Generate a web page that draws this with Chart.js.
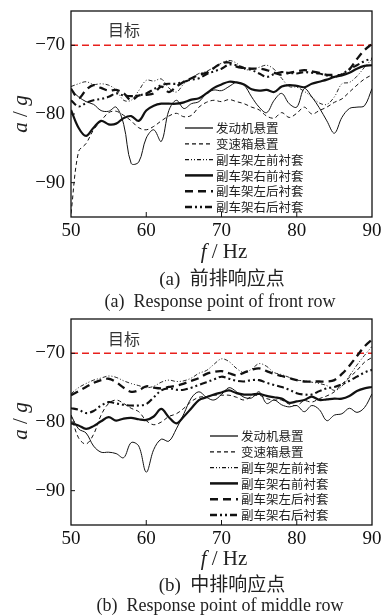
<!DOCTYPE html>
<html>
<head>
<meta charset="utf-8">
<script src="https://cdn.jsdelivr.net/npm/chart.js@4.4.1/dist/chart.umd.min.js"></script>
<style>
  html, body { margin: 0; padding: 0; background: #fff; }
  #wrap { position: relative; width: 383px; height: 616px; overflow: hidden; }
  canvas { position: absolute; left: 0; }
  .t { position: absolute; transform: translate(-50%, -50%); white-space: nowrap; color: #222; }
  .serif { font-family: "Liberation Serif", "DejaVu Serif", serif; }
  .cjk { font-family: "Noto Sans CJK SC", sans-serif; }
  .goal { font-family: "Noto Sans CJK SC", sans-serif; font-size: 16px; color: #333; }
  .ytitle { font-family: "Liberation Serif", serif; font-size: 21px; transform: translate(-50%, -50%) rotate(-90deg); }
  .xtitle { font-family: "Liberation Serif", serif; font-size: 21px; }
  .cap1 { font-size: 19px; }
  .cap2 { font-family: "Liberation Serif", serif; font-size: 18px; }
</style>
</head>
<body>
<div id="wrap">
  <canvas id="front" width="383" height="245" style="top:0"></canvas>
  <canvas id="middle" width="383" height="245" style="top:308px"></canvas>

  <div class="t goal" style="left:124px;top:29px">目标</div>
  <div class="t ytitle" style="left:20px;top:114px"><i>a</i> / <i>g</i></div>
  <div class="t xtitle" style="left:224px;top:251px"><i>f</i> / Hz</div>
  <div class="t cap1" style="left:222px;top:276px"><span class="serif">(a)</span>&nbsp;&nbsp;<span class="cjk">前排响应点</span></div>
  <div class="t cap2" style="left:220px;top:301px">(a)&nbsp;&nbsp;Response point of front row</div>

  <div class="t goal" style="left:124px;top:338px">目标</div>
  <div class="t ytitle" style="left:20px;top:421px"><i>a</i> / <i>g</i></div>
  <div class="t xtitle" style="left:224px;top:558px"><i>f</i> / Hz</div>
  <div class="t cap1" style="left:222px;top:582px"><span class="serif">(b)</span>&nbsp;&nbsp;<span class="cjk">中排响应点</span></div>
  <div class="t cap2" style="left:220px;top:605px">(b)&nbsp;&nbsp;Response point of middle row</div>
</div>

<script>
// frequency axis, Hz
const freq = [50,51,52,53,54,55,56,57,58,59,60,61,62,63,64,65,66,67,68,69,70,
              71,72,73,74,75,76,77,78,79,80,81,82,83,84,85,86,87,88,89,90];
const xTicks = [50, 60, 70, 80, 90];
const yTicks = [-90, -80, -70];
const target = -70;

const seriesNames = ['发动机悬置', '变速箱悬置', '副车架左前衬套', '副车架右前衬套', '副车架左后衬套', '副车架右后衬套'];

// (a) front row response, a / g
const frontEngine = [-76.5,-77.5,-78.2,-78.6,-79.5,-79.6,-79.0,-81.5,-87.2,-87.0,-83.5,-82.3,-84.0,-79.5,-78.0,-79.2,-78.5,-78.2,-77.0,-76.5,
  -76.6,-76.0,-75.4,-75.8,-77.5,-79.0,-79.8,-78.0,-77.0,-78.5,-79.0,-76.3,-77.5,-79.1,-81.0,-82.8,-80.5,-79.2,-79.0,-78.8,-76.3];
const frontGearbox = [-94.5,-85.5,-84.3,-82.3,-81.0,-79.8,-79.6,-80.2,-81.0,-82.0,-82.3,-81.8,-81.0,-80.3,-79.9,-80.4,-80.2,-79.0,-78.3,-78.0,
  -78.2,-77.9,-78.2,-78.5,-79.0,-79.4,-80.3,-80.6,-79.8,-80.5,-79.9,-79.0,-80.0,-79.5,-79.0,-78.3,-77.8,-76.8,-75.8,-74.9,-74.3];
const frontLeftFront = [-76.0,-75.6,-75.3,-75.7,-75.6,-75.8,-76.5,-78.0,-78.0,-76.6,-75.1,-75.2,-74.9,-76.2,-76.8,-75.6,-74.8,-74.1,-73.8,-73.2,
  -72.6,-72.2,-72.6,-73.5,-73.5,-73.2,-72.9,-73.5,-74.8,-76.0,-76.1,-76.7,-77.5,-78.4,-78.6,-77.5,-75.6,-75.4,-74.5,-73.2,-72.0];
const frontRightFront = [-79.4,-82.0,-83.2,-82.0,-81.0,-81.5,-81.4,-80.6,-80.3,-81.0,-79.5,-78.8,-78.5,-78.5,-78.5,-78.3,-77.9,-77.7,-77.0,-76.2,
  -75.7,-75.3,-75.4,-75.7,-76.4,-76.6,-76.5,-76.8,-76.0,-75.8,-75.9,-76.1,-75.6,-75.3,-75.0,-74.6,-74.4,-74.0,-73.4,-73.0,-72.9];
const frontLeftRear = [-76.3,-77.7,-76.5,-75.8,-76.2,-76.6,-76.5,-77.0,-78.0,-77.3,-77.2,-77.0,-76.0,-76.8,-76.0,-75.3,-74.8,-74.3,-74.0,-73.3,
  -72.6,-72.5,-73.1,-73.3,-73.4,-73.4,-73.6,-74.0,-74.3,-74.0,-73.8,-73.6,-73.8,-74.0,-74.3,-74.3,-74.3,-73.5,-72.0,-70.7,-69.8];
const frontRightRear = [-78.0,-78.9,-78.4,-78.0,-77.8,-77.5,-77.0,-77.3,-77.4,-77.3,-77.0,-76.4,-75.8,-75.6,-75.6,-75.3,-75.0,-74.8,-74.2,-73.8,
  -73.4,-72.8,-72.9,-73.3,-73.6,-74.1,-74.6,-74.2,-73.9,-74.0,-74.1,-73.9,-74.0,-74.1,-74.4,-74.6,-74.2,-73.5,-72.9,-72.3,-71.9];

// (b) middle row response, a / g
const middleEngine = [-79.0,-81.0,-81.6,-83.5,-84.4,-84.4,-84.6,-85.2,-83.0,-83.5,-87.3,-84.0,-82.5,-82.8,-81.0,-78.8,-76.5,-75.6,-76.4,-76.8,
  -76.0,-75.0,-75.6,-76.4,-76.5,-75.6,-77.3,-76.8,-77.5,-77.8,-77.6,-78.5,-77.6,-78.2,-79.8,-79.0,-78.8,-78.0,-78.6,-77.9,-75.9];
const middleGearbox = [-79.0,-82.3,-83.2,-81.8,-79.0,-77.3,-76.8,-77.3,-78.0,-78.5,-79.8,-80.4,-80.0,-79.2,-78.8,-78.0,-77.0,-76.4,-76.3,-76.1,
  -76.1,-76.1,-76.4,-76.8,-76.3,-76.1,-76.6,-76.8,-76.8,-77.4,-77.6,-76.9,-77.1,-76.6,-76.2,-75.6,-74.5,-73.5,-72.5,-71.3,-70.6];
const middleLeftFront = [-75.9,-75.0,-74.4,-73.9,-73.6,-73.3,-73.5,-74.0,-74.4,-74.7,-75.0,-74.8,-74.2,-73.9,-74.1,-74.0,-73.6,-72.9,-72.5,-71.6,
  -70.8,-71.2,-72.2,-72.8,-72.3,-71.5,-71.9,-72.8,-73.1,-73.5,-73.9,-74.0,-74.2,-74.4,-74.7,-75.4,-74.8,-73.3,-71.7,-70.3,-69.0];
const middleRightFront = [-80.2,-80.5,-81.0,-80.6,-79.9,-79.3,-79.8,-79.5,-79.4,-79.6,-79.7,-79.2,-78.1,-79.3,-80.2,-79.2,-78.0,-76.8,-76.4,-76.0,
  -75.7,-75.4,-75.8,-76.0,-76.0,-75.9,-76.2,-76.4,-76.6,-77.2,-77.0,-76.8,-76.3,-76.8,-76.7,-76.6,-76.6,-76.2,-75.5,-75.1,-74.9];
const middleLeftRear = [-76.1,-75.5,-74.9,-74.3,-73.9,-73.7,-74.2,-75.0,-75.6,-75.4,-74.8,-75.0,-75.1,-74.9,-74.7,-74.4,-74.0,-73.6,-73.0,-72.7,
  -72.6,-72.9,-73.2,-72.8,-72.4,-72.2,-72.6,-73.0,-73.3,-73.6,-73.9,-74.1,-74.1,-74.1,-74.1,-73.9,-73.0,-71.8,-70.4,-69.0,-68.0];
const middleRightRear = [-78.0,-78.2,-78.7,-78.4,-77.6,-77.1,-77.3,-77.5,-77.6,-77.6,-77.4,-76.4,-75.4,-75.1,-75.3,-75.3,-75.0,-74.6,-74.2,-73.8,
  -73.4,-73.7,-74.0,-74.1,-73.9,-73.9,-74.3,-74.6,-74.9,-75.3,-75.8,-76.0,-76.0,-75.5,-75.1,-74.9,-74.5,-74.0,-73.4,-72.8,-72.4];

const INK = '#111';
const TICK_FONT = { family: 'Liberation Serif', size: 19 };
const lineStyles = [
  { width: 1.0, dash: [] },
  { width: 1.0, dash: [4, 3] },
  { width: 0.9, dash: [4, 2, 1, 2, 1, 2] },
  { width: 2.2, dash: [] },
  { width: 2.3, dash: [8, 5] },
  { width: 2.1, dash: [7, 3, 2, 3, 2, 3] }
];

function toPoints(values) {
  return values.map((v, i) => ({ x: freq[i], y: v }));
}

// frame, inward ticks and the in-plot legend
const decorations = {
  id: 'decorations',
  afterDatasetsDraw(chart, args, opts) {
    const { ctx, chartArea: a, scales: { x, y } } = chart;
    ctx.save();
    ctx.strokeStyle = INK;
    ctx.lineWidth = 1.3;
    ctx.setLineDash([]);
    ctx.strokeRect(a.left, a.top, a.right - a.left, a.bottom - a.top);
    ctx.lineWidth = 1;
    xTicks.slice(1, -1).forEach(v => {
      const px = x.getPixelForValue(v);
      ctx.beginPath(); ctx.moveTo(px, a.bottom); ctx.lineTo(px, a.bottom - 5); ctx.stroke();
    });
    yTicks.forEach(v => {
      const py = y.getPixelForValue(v);
      ctx.beginPath(); ctx.moveTo(a.left, py); ctx.lineTo(a.left + 4, py); ctx.stroke();
    });

    ctx.font = '12.5px "Noto Sans CJK SC"';
    ctx.textBaseline = 'middle';
    ctx.fillStyle = '#222';
    seriesNames.forEach((name, i) => {
      const rowY = a.top + opts.top + i * 15.8;
      const st = lineStyles[i];
      ctx.lineWidth = st.width + 0.3;
      ctx.setLineDash(st.dash);
      ctx.beginPath();
      ctx.moveTo(opts.left, rowY);
      ctx.lineTo(opts.left + 28, rowY);
      ctx.stroke();
      ctx.fillText(name, opts.left + 31, rowY + 0.5);
    });
    ctx.restore();
  }
};

function makeChart(canvasId, seriesList, legendLeft) {
  const ctx = document.getElementById(canvasId);
  const datasets = seriesList.map((vals, i) => ({
    label: seriesNames[i],
    data: toPoints(vals),
    borderColor: INK,
    borderWidth: lineStyles[i].width,
    borderDash: lineStyles[i].dash,
    pointRadius: 0,
    tension: 0.35,
    fill: false
  }));
  datasets.push({
    label: '目标',
    data: [{ x: freq[0], y: target }, { x: freq[freq.length - 1], y: target }],
    borderColor: '#e8201c',
    borderWidth: 1.5,
    borderDash: [7, 4],
    pointRadius: 0,
    fill: false
  });

  return new Chart(ctx, {
    type: 'line',
    data: { datasets },
    options: {
      responsive: false,
      animation: false,
      devicePixelRatio: 1,
      layout: { padding: { top: 11, right: 11, left: 0, bottom: 0 } },
      plugins: {
        legend: { display: false },
        tooltip: { enabled: false },
        decorations: { left: legendLeft, top: 117 }
      },
      scales: {
        x: {
          type: 'linear',
          min: 50,
          max: 90,
          afterBuildTicks: s => { s.ticks = xTicks.map(v => ({ value: v })); },
          afterFit: s => { s.height = 28; s.paddingLeft = 0; s.paddingRight = 0; },
          grid: { display: false, drawTicks: false },
          border: { display: false },
          ticks: { color: INK, font: TICK_FONT, padding: 3, maxRotation: 0 }
        },
        y: {
          min: -95,
          max: -65,
          afterBuildTicks: s => { s.ticks = yTicks.map(v => ({ value: v })); },
          afterFit: s => { s.width = 71; s.paddingTop = 0; s.paddingBottom = 0; },
          grid: { display: false, drawTicks: false },
          border: { display: false },
          ticks: {
            color: INK,
            font: TICK_FONT,
            padding: 6,
            callback: v => '\u2212' + Math.abs(v)
          }
        }
      }
    },
    plugins: [decorations]
  });
}

makeChart('front', [frontEngine, frontGearbox, frontLeftFront, frontRightFront, frontLeftRear, frontRightRear], 185);
makeChart('middle', [middleEngine, middleGearbox, middleLeftFront, middleRightFront, middleLeftRear, middleRightRear], 210);
</script>
</body>
</html>
